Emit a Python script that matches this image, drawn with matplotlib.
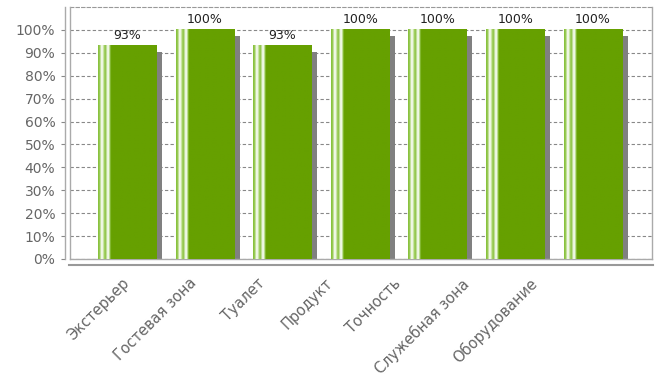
import matplotlib

matplotlib.use("Agg")
import matplotlib.pyplot as plt
import matplotlib.transforms as mtransforms
import numpy as np
from matplotlib.colors import to_rgb
from matplotlib.lines import Line2D

categories = ["Экстерьер", "Гостевая зона", "Туалет", "Продукт", "Точность",
              "Служебная зона", "Оборудование"]
values = [93, 100, 93, 100, 100, 100, 100]
value_labels = ["93%", "100%", "93%", "100%", "100%", "100%", "100%"]
y_ticks = list(range(0, 101, 10))
y_tick_labels = [f"{t}%" for t in y_ticks]

GREEN = "#66a000"
BAR_W = 0.76
# category labels sit on a tighter pitch than the bars in the original chart
LABEL_START, LABEL_STEP = -0.08, 0.876
# colour stops across the bar width (fraction of width, colour)
stops = [(0.00, "#86c03a"), (0.03, "#9ccc5a"), (0.05, "#f4faee"), (0.08, "#eef7e4"),
         (0.10, "#a6d266"), (0.13, "#8cc244"), (0.15, "#e8f4dc"), (0.18, "#f6fbf0"),
         (0.20, "#9ccc5a"), (0.22, GREEN), (1.00, GREEN)]


def gradient_row(n=120):
    xs = np.linspace(0, 1, n)
    pos = [s[0] for s in stops]
    cols = np.array([to_rgb(s[1]) for s in stops])
    row = np.stack([np.interp(xs, pos, cols[:, k]) for k in range(3)], axis=-1)
    return row[np.newaxis, :, :]


fig = plt.figure(figsize=(6.57, 3.81), dpi=100)
ax = fig.add_axes([70 / 657, 1 - 259 / 381, (652 - 70) / 657, (259 - 7) / 381])

x = np.arange(len(categories))
shadow = ax.transData + mtransforms.ScaledTranslation(5 / 100, -6 / 100, fig.dpi_scale_trans)
ax.bar(x, values, width=BAR_W, color="#808080", linewidth=0, transform=shadow, zorder=2)

grad = gradient_row()
for xi, v in zip(x, values):
    ax.imshow(grad, extent=(xi - BAR_W / 2, xi + BAR_W / 2, 0, v), aspect="auto",
              interpolation="bilinear", zorder=3)

for xi, v, lab in zip(x, values, value_labels):
    ax.annotate(lab, (xi, v), xytext=(0, 3), textcoords="offset points", ha="center",
                va="bottom", fontsize=9, color="#222222")

ax.set_xlim(-0.74, 6.76)
ax.set_ylim(0, 110)
ax.set_yticks(y_ticks)
ax.set_yticklabels(y_tick_labels, fontsize=10.5)
ax.set_xticks(LABEL_START + LABEL_STEP * x)
ax.set_xticklabels(categories, rotation=45, ha="right", rotation_mode="anchor",
                   fontsize=10.5)
ax.tick_params(axis="x", length=0, pad=12, labelcolor="#666666")
ax.tick_params(axis="y", length=3, color="#888888", pad=4, labelcolor="#666666")

ax.grid(axis="y", color="#888888", linestyle=(0, (3, 2)), linewidth=0.8, zorder=1)
ax.set_axisbelow(True)
for side in ["left", "right", "bottom"]:
    ax.spines[side].set_color("#aaaaaa")
    ax.spines[side].set_linewidth(1.0)
ax.spines["top"].set_color("#999999")
ax.spines["top"].set_linestyle((0, (3, 2)))
ax.spines["left"].set_position(("outward", 3.6))
ax.spines["left"].set_bounds(0, 110)

# extra frame lines (plot box left edge and separate x-axis line)
fig.add_artist(Line2D([70 / 657, 70 / 657], [1 - 259 / 381, 1 - 7 / 381],
                      color="#aaaaaa", linewidth=1.0))
fig.add_artist(Line2D([69 / 657, 653 / 657], [1 - 264.5 / 381, 1 - 264.5 / 381],
                      color="#999999", linewidth=1.5))

fig.savefig("out.png", dpi=100)
